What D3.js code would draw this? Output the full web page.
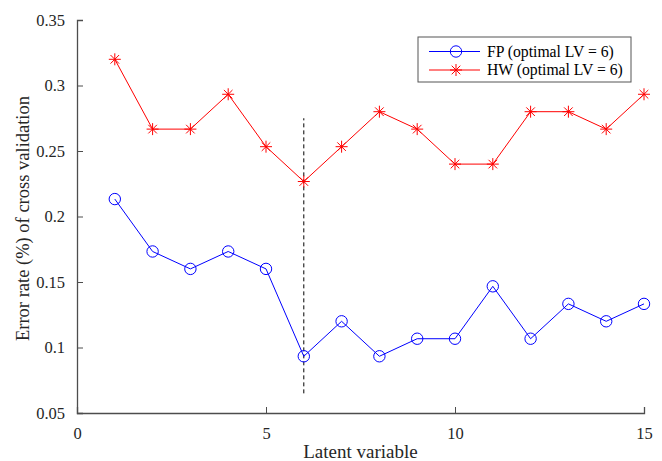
<!DOCTYPE html>
<html>
<head>
<meta charset="utf-8">
<script src="https://cdn.jsdelivr.net/npm/d3@7"></script>
<style>
  body { margin: 0; background: #fff; }
  svg { font-family: "Liberation Serif", "Times New Roman", serif; }
</style>
</head>
<body>
<script>
const lv = d3.range(1, 16);
const fp = [0.2133, 0.1733, 0.16, 0.1733, 0.16, 0.0933, 0.12, 0.0933, 0.1067, 0.1067, 0.1467, 0.1067, 0.1333, 0.12, 0.1333];
const hw = [0.32, 0.2667, 0.2667, 0.2933, 0.2533, 0.2267, 0.2533, 0.28, 0.2667, 0.24, 0.24, 0.28, 0.28, 0.2667, 0.2933];
const xTicks = [0, 5, 10, 15];
const yTicks = [0.05, 0.1, 0.15, 0.2, 0.25, 0.3, 0.35];
const optimalLV = 6;
const guideRange = [0.065, 0.275];
const seriesNames = ["FP (optimal LV = 6)", "HW (optimal LV = 6)"];

const baseWidth = 662, baseHeight = 461;
const margin = { top: 20, right: 18, bottom: 48, left: 77 };
const width = baseWidth - margin.left - margin.right;
const height = baseHeight - margin.top - margin.bottom;

const svg = d3.select("body").append("svg")
  .attr("width", baseWidth)
  .attr("height", baseHeight);

const chart = svg.append("g")
  .attr("transform", "translate(" + margin.left + "," + margin.top + ")");

const x = d3.scaleLinear().domain([0, 15]).range([0, width]);
const y = d3.scaleLinear().domain([0.05, 0.35]).range([height, 0]);

const axisColor = "#4d4d4d";

const xAxis = chart.append("g")
  .attr("transform", "translate(0," + height + ")")
  .call(d3.axisBottom(x).tickValues(xTicks).tickFormat(d3.format("d")).tickSize(-6).tickPadding(14));
const yAxis = chart.append("g")
  .call(d3.axisLeft(y).tickValues(yTicks).tickFormat(d => d3.format("")(+d.toFixed(2))).tickSize(-6).tickPadding(12));

[xAxis, yAxis].forEach(a => {
  a.select(".domain").attr("stroke", axisColor).attr("stroke-width", 1.3);
  a.selectAll(".tick line").attr("stroke", axisColor);
  a.selectAll(".tick text")
    .attr("fill", "#262626")
    .style("font-family", "Liberation Serif, serif")
    .style("font-size", "16.5px");
});

// dashed guide at optimal LV
chart.append("line")
  .attr("x1", x(optimalLV)).attr("x2", x(optimalLV))
  .attr("y1", y(guideRange[0])).attr("y2", y(guideRange[1]))
  .attr("stroke", "#000")
  .attr("stroke-dasharray", "4,3");

const line = d3.line().x((d, i) => x(lv[i])).y(d => y(d));

chart.append("path").datum(fp)
  .attr("fill", "none").attr("stroke", "#0000ff").attr("stroke-width", 1)
  .attr("d", line);
chart.append("path").datum(hw)
  .attr("fill", "none").attr("stroke", "#ff0000").attr("stroke-width", 1)
  .attr("d", line);

function circleMark(g, cx, cy) {
  g.append("circle").attr("cx", cx).attr("cy", cy).attr("r", 5.7)
    .attr("fill", "none").attr("stroke", "#0000ff").attr("stroke-width", 1);
}
function starMark(g, cx, cy) {
  const r = 6, rd = 4.3;
  const p = `M${cx - r},${cy}L${cx + r},${cy}M${cx},${cy - r}L${cx},${cy + r}` +
    `M${cx - rd},${cy - rd}L${cx + rd},${cy + rd}M${cx - rd},${cy + rd}L${cx + rd},${cy - rd}`;
  g.append("path").attr("d", p).attr("stroke", "#ff0000").attr("stroke-width", 1).attr("fill", "none");
}

fp.forEach((d, i) => circleMark(chart, x(lv[i]), y(d)));
hw.forEach((d, i) => starMark(chart, x(lv[i]), y(d)));

// axis labels
svg.append("text")
  .attr("x", margin.left + width / 2)
  .attr("y", 458)
  .attr("text-anchor", "middle")
  .attr("fill", "#262626")
  .style("font-size", "19px")
  .text("Latent variable");
svg.append("text")
  .attr("transform", "translate(29," + (margin.top + height / 2 + 2) + ") rotate(-90)")
  .attr("text-anchor", "middle")
  .attr("fill", "#262626")
  .style("font-size", "18.5px")
  .text("Error rate (%) of cross validation");

// legend
const legend = svg.append("g").attr("transform", "translate(418,37)");
legend.append("rect")
  .attr("width", 213).attr("height", 45)
  .attr("fill", "#fff").attr("stroke", "#555").attr("stroke-width", 1);
[["#0000ff", circleMark], ["#ff0000", starMark]].forEach((s, i) => {
  const cy = 14.5 + i * 18.5;
  legend.append("line").attr("x1", 11).attr("x2", 62).attr("y1", cy).attr("y2", cy)
    .attr("stroke", s[0]).attr("stroke-width", 1);
  s[1](legend, 38, cy);
  legend.append("text")
    .attr("x", 69).attr("y", cy).attr("dy", "0.35em")
    .attr("fill", "#000")
    .style("font-size", "15.7px")
    .text(seriesNames[i]);
});
</script>
</body>
</html>
